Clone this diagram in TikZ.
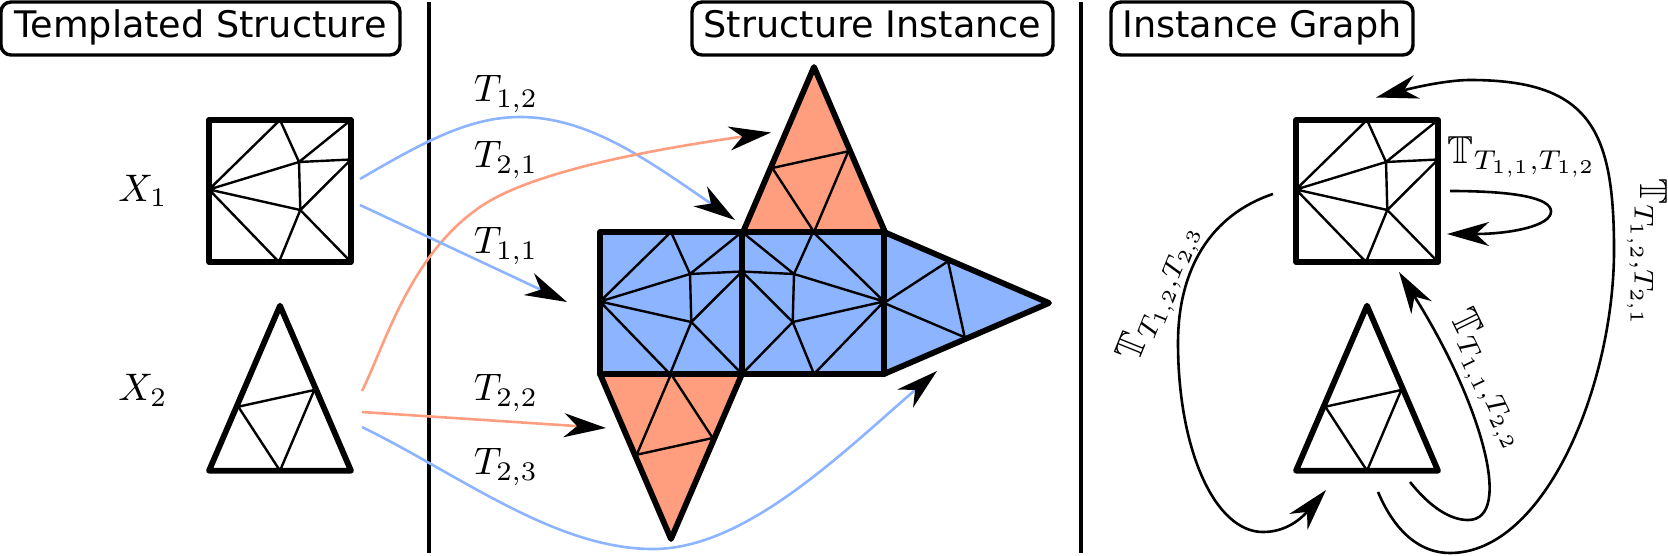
\documentclass[tikz,border=0pt]{standalone}
\usepackage{amssymb}
\usepackage{fontspec}
\newfontfamily\hdrfont{DejaVu Sans}
\usetikzlibrary{arrows.meta}
\definecolor{meshblue}{HTML}{8DB4FF}
\definecolor{meshorange}{HTML}{FF9E7F}
\tikzset{
  outline/.style={line width=2.9pt,line join=round,line cap=round},
  thinmesh/.style={line width=1.2pt,line join=round},
  header/.style={draw,line width=1.7pt,rounded corners=5pt,inner sep=0pt,font=\hdrfont\fontsize{18.3}{20}\selectfont,text height=13.5pt,text depth=4pt,minimum height=26.5pt},
  divider/.style={line width=1.6pt},
  link/.style={line width=1.3pt,-{Stealth[length=21pt,width=12pt,inset=6.5pt,black]}},
  bluelink/.style={link,draw=meshblue},
  orangelink/.style={link,draw=meshorange},
  graphlink/.style={link,draw=black},
  mathlabel/.style={font=\normalsize,inner sep=0pt,scale=1.92,transform shape},
  graphlabel/.style={font=\normalsize,inner sep=0pt,scale=1.95,transform shape}
}
% square mesh: local origin at the top-left corner, side 142
\newcommand{\squaremesh}[2]{%
  \begin{scope}[#1]
    \ifx&#2&\else\fill[#2] (0,0) rectangle (142,142);\fi
    \draw[thinmesh] (0,69.5)--(71,0)--(90,42)--(142,0) (90,42)--(142,39.5)--(91.3,90)--(90,42)
      (0,69.5)--(90,42) (0,69.5)--(91.3,90) (0,69.5)--(70,142)--(91.3,90)--(142,142);
    \draw[outline] (0,0) rectangle (142,142);
  \end{scope}}
% triangle mesh: local origin at the middle of the base
\newcommand{\trimesh}[2]{%
  \begin{scope}[#1]
    \ifx&#2&\else\fill[#2] (-71,0)--(0,-165)--(71,0)--cycle;\fi
    \draw[thinmesh] (-41.7,-64)--(34.3,-80.7)--(0,0)--(-41.7,-64);
    \draw[outline] (-71,0)--(0,-165)--(71,0)--cycle;
  \end{scope}}
\begin{document}
\begin{tikzpicture}[x=0.5pt,y=-0.5pt]
\useasboundingbox (0,0) rectangle (1668,556);
% headers
\node[header,minimum width=199.5pt] (h1) at (200.5,28.5) {Templated Structure};
\node[header,minimum width=180.5pt] (h2) at (872.5,28.5) {Structure Instance};
\node[header,minimum width=151pt] (h3) at (1262,28.5) {Instance Graph};
% dividers
\coordinate (d1a) at (429,2); \coordinate (d1b) at (429,553);
\coordinate (d2a) at (1081,2); \coordinate (d2b) at (1081,553);
\draw[divider] (d1a)--(d1b) (d2a)--(d2b);
% templates
\squaremesh{shift={(209,120)}}{}
\trimesh{shift={(280,470.7)}}{}
\node[mathlabel] (x1) at (143,191) {$X_1$};
\node[mathlabel] (x2) at (143,390) {$X_2$};
% instance
\trimesh{shift={(814,232)}}{meshorange}
\trimesh{shift={(671,374)},rotate=180}{meshorange}
\trimesh{shift={(884,303)},rotate=-90}{meshblue}
\squaremesh{shift={(600,232)}}{meshblue}
\squaremesh{shift={(884,232)},xscale=-1}{meshblue}
% template-to-instance connectors
\coordinate (b1s) at (360,179); \coordinate (b1m) at (520,117); \coordinate (b1e) at (735,220);
\coordinate (o1s) at (362,391); \coordinate (o1m) at (483,205); \coordinate (o1e) at (771,132.5);
\coordinate (b2s) at (360,205); \coordinate (b2e) at (567,302);
\coordinate (o2s) at (362,412); \coordinate (o2e) at (606,428);
\coordinate (b3s) at (362,427); \coordinate (b3m) at (653,549); \coordinate (b3e) at (937,371);
\draw[bluelink] (b1s) .. controls (425,141) and (470,117) .. (b1m) .. controls (590,117) and (650,162) .. (b1e);
\draw[orangelink] (o1s) .. controls (385,345) and (410,253) .. (o1m) .. controls (540,168) and (670,147) .. (o1e);
\draw[bluelink] (b2s) -- (b2e);
\draw[orangelink] (o2s) -- (o2e);
\draw[bluelink] (b3s) .. controls (460,475) and (555,549) .. (b3m) .. controls (745,549) and (840,455) .. (b3e);
\node[mathlabel] (t12) at (506,94) {$T_{1,2}$};
\node[mathlabel] (t21) at (506,160) {$T_{2,1}$};
\node[mathlabel] (t11) at (506,246) {$T_{1,1}$};
\node[mathlabel] (t22) at (506,393) {$T_{2,2}$};
\node[mathlabel] (t23) at (506,467) {$T_{2,3}$};
% instance graph
\squaremesh{shift={(1296,120)}}{}
\trimesh{shift={(1367,470.7)}}{}
\coordinate (a1s) at (1378,492); \coordinate (a1b) at (1450,553); \coordinate (a1r) at (1614,250); \coordinate (a1t) at (1470,80); \coordinate (a1e) at (1376,97.5);
\draw[graphlink] (a1s) .. controls (1395,532) and (1420,553) .. (a1b) .. controls (1545,553) and (1614,385) .. (a1r) .. controls (1614,130) and (1590,80) .. (a1t) .. controls (1450,80) and (1420,86) .. (a1e);
\coordinate (a2s) at (1410,482); \coordinate (a2b) at (1468,520); \coordinate (a2e) at (1399,272);
\draw[graphlink] (a2s) .. controls (1430,507) and (1450,520) .. (a2b) .. controls (1515,520) and (1480,400) .. (a2e);
\coordinate (a3s) at (1273,194); \coordinate (a3l) at (1178,343); \coordinate (a3b) at (1263,532); \coordinate (a3e) at (1326,490);
\draw[graphlink] (a3s) .. controls (1210,215) and (1178,270) .. (a3l) .. controls (1178,450) and (1215,532) .. (a3b) .. controls (1285,532) and (1300,520) .. (a3e);
\coordinate (a4s) at (1450,191); \coordinate (a4r) at (1551,211.5); \coordinate (a4e) at (1447,234);
\draw[graphlink] (a4s) .. controls (1515,191) and (1551,198) .. (a4r) .. controls (1551,226) and (1510,234) .. (a4e);
\node[graphlabel] (g1) at (1522,157) {$\mathbb{T}_{T_{1,1},T_{1,2}}$};
\node[graphlabel,rotate=-90] (g2) at (1647,253) {$\mathbb{T}_{T_{1,2},T_{2,1}}$};
\node[graphlabel,rotate=-64] (g3) at (1488,380) {$\mathbb{T}_{T_{1,1},T_{2,2}}$};
\node[graphlabel,rotate=68] (g4) at (1160,292) {$\mathbb{T}_{T_{1,2},T_{2,3}}$};
\end{tikzpicture}
\end{document}
